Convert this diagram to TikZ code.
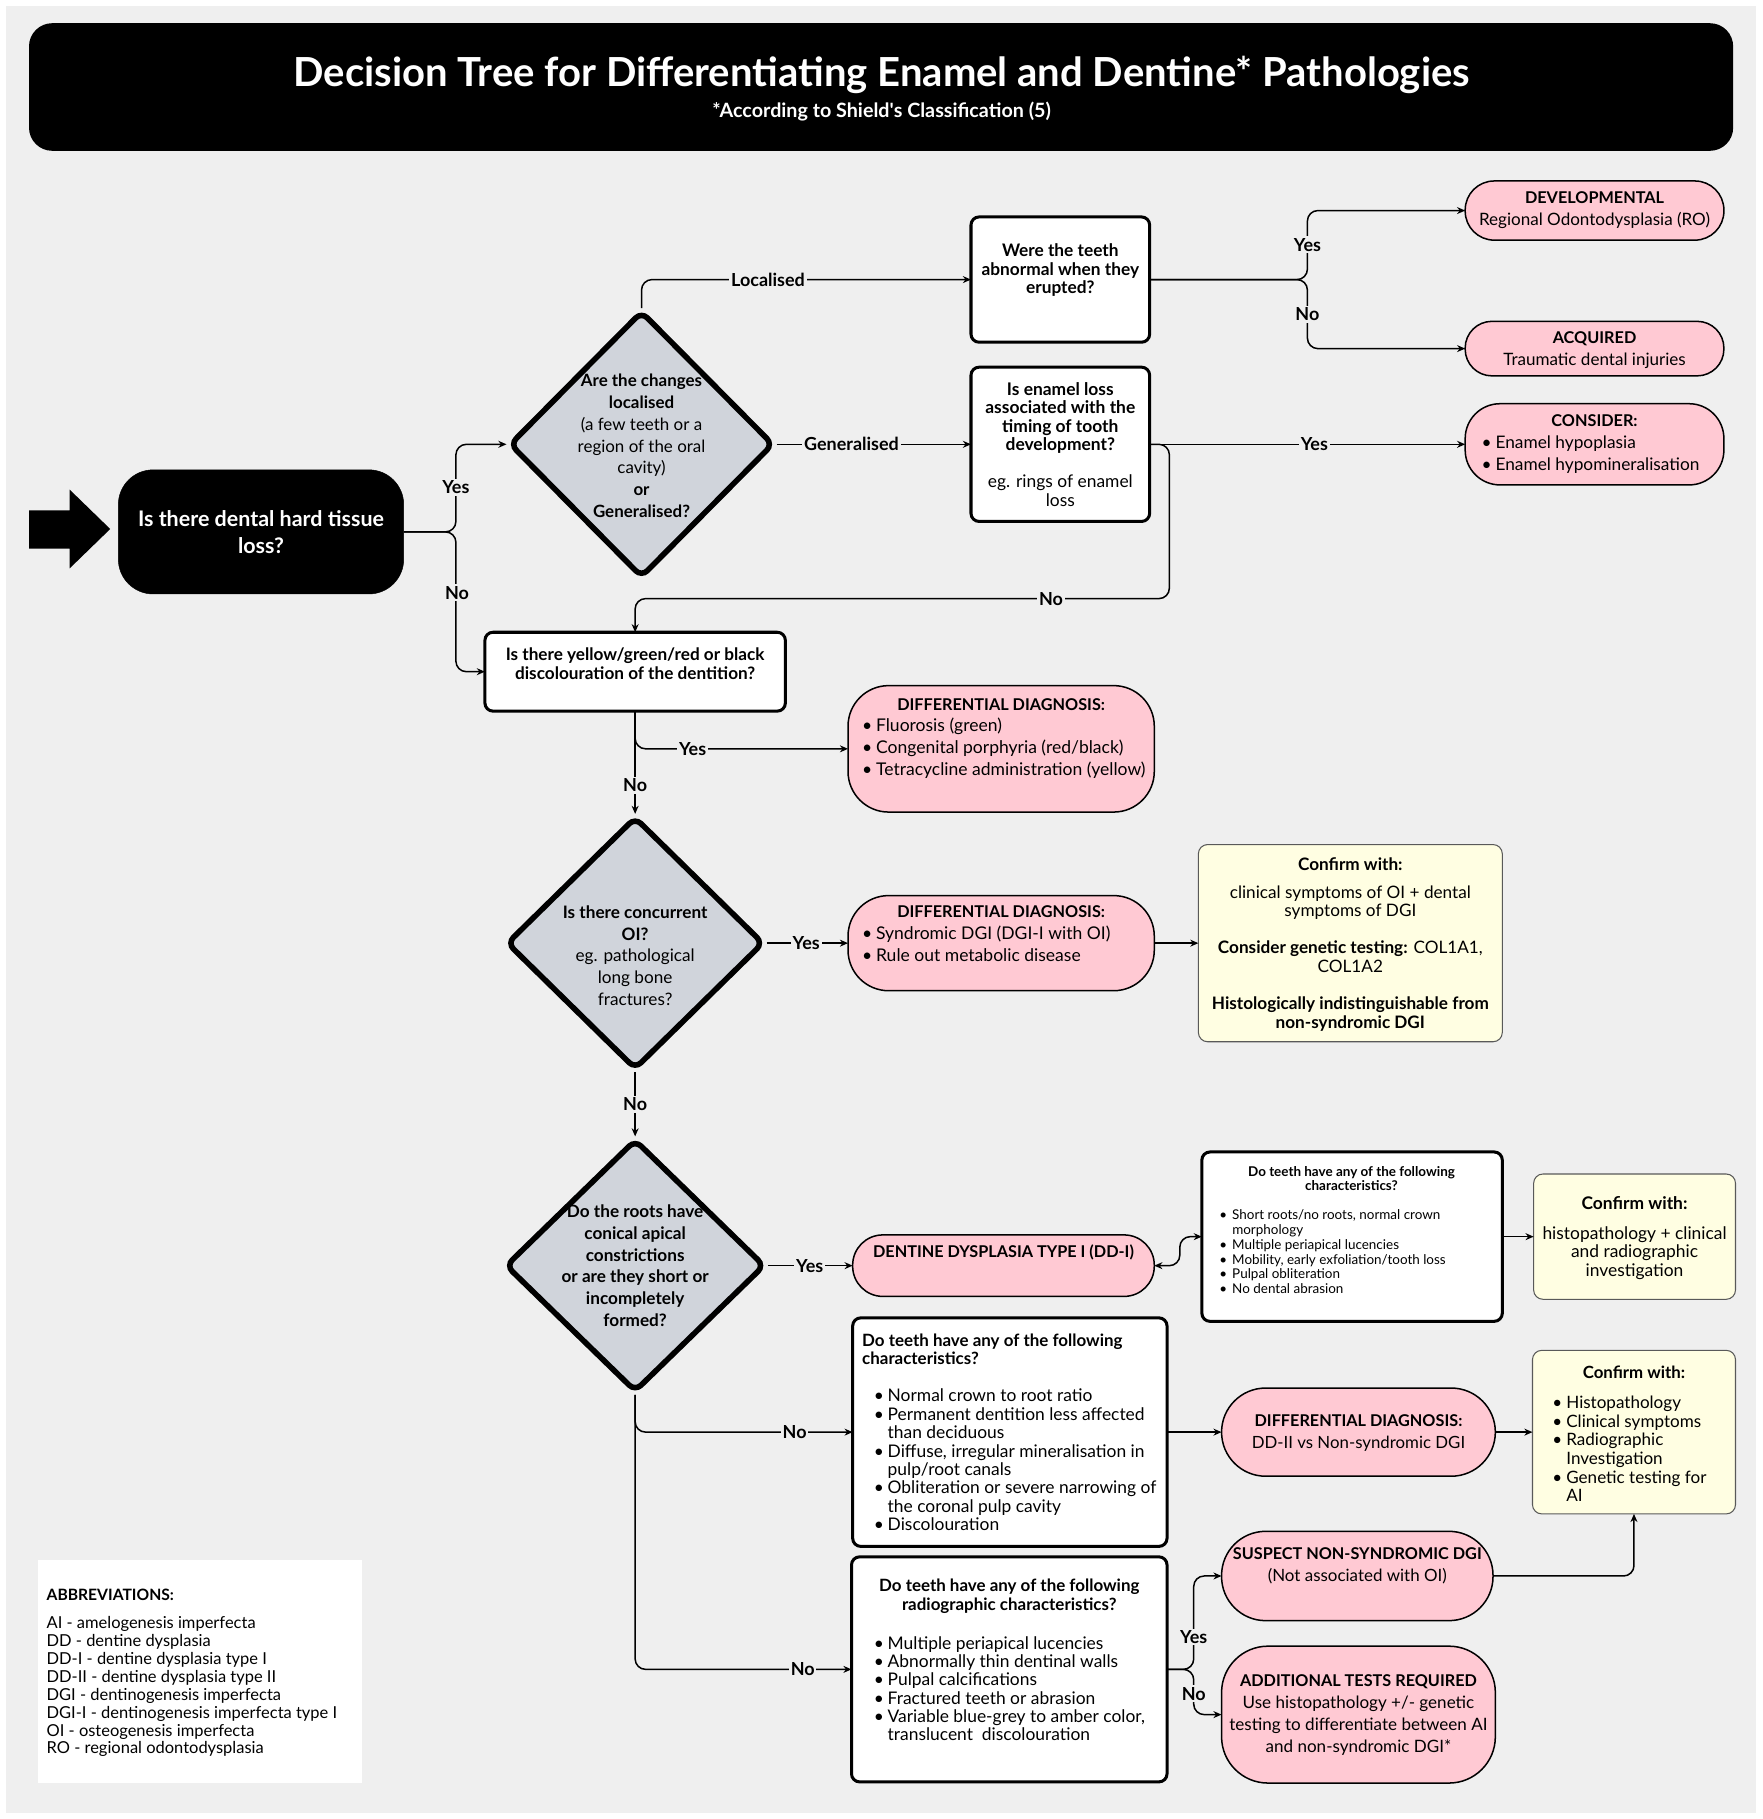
\documentclass[tikz,border=0pt]{standalone}
\usepackage{fontspec}
\setmainfont{Lato}
\usetikzlibrary{shapes.geometric,arrows.meta}
\definecolor{bg}{HTML}{EFEFEF}
\definecolor{pnk}{HTML}{FFC9D3}
\definecolor{dgr}{HTML}{D0D4DB}
\definecolor{crm}{HTML}{FFFEE2}
\newcommand\fsz[2]{\fontsize{#1}{#2}\selectfont}
\newcommand\hd[1]{{\fontsize{14}{19}\selectfont\bfseries #1}}
\newcommand\bl{\makebox[12pt][l]{\textbullet}}
\newcommand\bi{\hspace*{12pt}}
\newcommand\bls{\makebox[11pt][l]{\textbullet}}
\newcommand\bis{\hspace*{11pt}}
\begin{document}
\begin{tikzpicture}[x=1pt,y=-1pt,
  con/.style={line width=1.3pt, -{Stealth[length=7pt,width=6pt]}, rounded corners=9pt},
  lbl/.style={fill=bg, inner sep=1.5pt, font=\bfseries\fsz{15.5}{17}},
  wbox/.style={draw, line width=2.6pt, fill=white, rounded corners=7pt, inner sep=0pt, outer sep=0pt},
  pbox/.style={draw, line width=1.3pt, fill=pnk, inner sep=0pt, outer sep=0pt},
  cbox/.style={draw=black!65, line width=0.9pt, fill=crm, rounded corners=8pt, inner sep=0pt, outer sep=0pt},
  dia/.style={diamond, draw, line width=4.8pt, fill=dgr, rounded corners=7pt, inner sep=0pt, shape aspect=1},
  txt/.style={inner sep=0pt, align=center},
  txtl/.style={inner sep=0pt, align=left, anchor=west},
]
\useasboundingbox (0,0) rectangle (1519,1568);
\fill[white] (0,0) rectangle (1519,1568);
\fill[bg] (5,5) rectangle (1514,1563);

% banner
\node[fill=black, rounded corners=20pt, minimum width=1469pt, minimum height=110pt, inner sep=0pt] (banner) at (759.5,75) {};
\node[txt, text=white, font=\bfseries\fsz{34.5}{40}] (title) at (760,64.5) {Decision Tree for Differentiating Enamel and Dentine* Pathologies};
\node[txt, text=white, font=\bfseries\fsz{17}{19}] (sub) at (760,96.5) {*According to Shield\textquotesingle s Classification (5)};

% entry arrow
\fill[black] (25,440) -- (60,440) -- (60,422) -- (95,456) -- (60,490) -- (60,473) -- (25,473) -- cycle;

% nodes
\node[fill=black, draw=black, rounded corners=30pt, minimum width=246pt, minimum height=107pt, inner sep=0pt] (start) at (225,458.5) {};
\node[dia, minimum width=228pt, minimum height=230pt] (d1) at (553,383) {};
\node[wbox, minimum width=154pt, minimum height=108pt] (boxA) at (914,241) {};
\node[wbox, minimum width=154pt, minimum height=133pt] (boxB) at (914,383) {};
\node[pbox, rounded corners=25pt, minimum width=223pt, minimum height=51pt] (dev) at (1374.5,181.5) {};
\node[pbox, rounded corners=23pt, minimum width=223pt, minimum height=47pt] (acq) at (1374.5,300.5) {};
\node[pbox, rounded corners=30pt, minimum width=223pt, minimum height=70pt] (cons) at (1374.5,383) {};
\node[wbox, minimum width=259pt, minimum height=68pt] (boxC) at (547.5,579) {};
\node[pbox, rounded corners=35pt, minimum width=264pt, minimum height=109pt] (diff1) at (863,645.5) {};
\node[dia, minimum width=222pt, minimum height=218pt] (d2) at (547.5,813) {};
\node[pbox, rounded corners=35pt, minimum width=264pt, minimum height=82pt] (diff2) at (863,813) {};
\node[cbox, minimum width=262pt, minimum height=170pt] (conf1) at (1164,813) {};
\node[dia, minimum width=224pt, minimum height=218pt] (d3) at (547.5,1091) {};
\node[pbox, rounded corners=26pt, minimum width=260pt, minimum height=53pt] (ddi) at (865,1091) {};
\node[wbox, minimum width=259pt, minimum height=146pt] (boxD) at (1165.5,1066) {};
\node[cbox, minimum width=174pt, minimum height=108pt] (conf2) at (1409,1066) {};
\node[wbox, minimum width=271pt, minimum height=197pt] (boxE) at (870.5,1234.5) {};
\node[pbox, rounded corners=38pt, minimum width=236pt, minimum height=76pt] (diff3) at (1171,1234.5) {};
\node[cbox, minimum width=175pt, minimum height=141pt] (conf3) at (1408.5,1234.5) {};
\node[wbox, minimum width=272pt, minimum height=194pt] (boxF) at (870,1439) {};
\node[pbox, rounded corners=38pt, minimum width=234pt, minimum height=77pt] (susp) at (1170,1358.5) {};
\node[pbox, rounded corners=40pt, minimum width=236pt, minimum height=118pt] (add) at (1171,1478) {};
\node[fill=white, minimum width=279pt, minimum height=192pt, inner sep=0pt] (abbr) at (172.5,1441) {};

% connectors
\draw[con] (start.east) -- (393,458.5) |- (d1.west);
\draw[con] (start.east) -- (393,458.5) |- (boxC.west);
\draw[con] (d1.north) |- (boxA.west);
\draw[con] (d1.east) -- (boxB.west);
\draw[con] (boxA.east) -- (1127,241) |- (dev.west);
\draw[con] (boxA.east) -- (1127,241) |- (acq.west);
\draw[con] (boxB.east) -- (cons.west);
\draw[con] (boxB.east) -- (1008,383) -- (1008,516) -| (boxC.north);
\draw[con] (boxC.south) -- (d2.north);
\draw[con] (boxC.south) |- (diff1.west);
\draw[con] (d2.east) -- (diff2.west);
\draw[con] (diff2.east) -- (conf1.west);
\draw[con] (d2.south) -- (d3.north);
\draw[con] (d3.east) -- (ddi.west);
\draw[con, {Stealth[length=7pt,width=6pt]}-{Stealth[length=7pt,width=6pt]}] (ddi.east) -- (1017,1091) -- (1017,1066) -- (boxD.west);
\draw[con] (boxD.east) -- (conf2.west);
\draw[con] (d3.south) |- (boxE.west);
\draw[con] (d3.south) |- (boxF.west);
\draw[con] (boxE.east) -- (diff3.west);
\draw[con] (diff3.east) -- (conf3.west);
\draw[con] (boxF.east) -- (1029,1439) |- (susp.west);
\draw[con] (boxF.east) -- (1029,1439) |- (add.west);
\draw[con] (susp.east) -| (conf3.south);

% labels
\node[lbl] (l1) at (393,420) {Yes};
\node[lbl] (l2) at (394,511) {No};
\node[lbl] (l3) at (662,241) {Localised};
\node[lbl] (l4) at (734,383) {Generalised};
\node[lbl] (l5) at (1127,211) {Yes};
\node[lbl] (l6) at (1127,271) {No};
\node[lbl] (l7) at (1133,383) {Yes};
\node[lbl] (l8) at (906,516) {No};
\node[lbl] (l9) at (597,646) {Yes};
\node[lbl] (l10) at (547.5,677) {No};
\node[lbl] (l11) at (695,813) {Yes};
\node[lbl] (l12) at (547.5,952) {No};
\node[lbl] (l13) at (698,1091) {Yes};
\node[lbl] (l14) at (685,1234.5) {No};
\node[lbl] (l15) at (692,1439) {No};
\node[lbl] (l16) at (1029,1411) {Yes};
\node[lbl] (l17) at (1029,1460) {No};

% texts
\node[txt, text=white, font=\bfseries\fsz{18.5}{23}] (tstart) at (225,458.5) {Is there dental hard tissue\\loss?};
\node[txt, font=\fsz{14.6}{18.8}] (td1) at (553,384.4) {\textbf{Are the changes}\\\textbf{localised}\\(a few teeth or a\\region of the oral\\cavity)\\\textbf{or}\\\textbf{Generalised?}};
\node[txt, font=\bfseries\fsz{14.9}{16}] (tA) at (914,233) {Were the teeth\\abnormal when they\\erupted?};
\node[txt, font=\fsz{15}{16}] (tB) at (914,383) {\textbf{Is enamel loss}\\\textbf{associated with the}\\\textbf{timing of tooth}\\\textbf{development?}\\[16pt]eg. rings of enamel\\loss};
\node[txt, font=\fsz{14.7}{19}] (tdev) at (1374.5,181.5) {\hd{DEVELOPMENTAL}\\Regional Odontodysplasia (RO)};
\node[txt, font=\fsz{14.7}{19}] (tacq) at (1374.5,301.5) {\hd{ACQUIRED}\\Traumatic dental injuries};
\node[txt, font=\bfseries\fsz{14}{19}] (tcons) at (1374.5,363) {CONSIDER:};
\node[txtl, font=\fsz{14.9}{19}] (tconsb) at (1277,391.5) {\bl Enamel hypoplasia\\\bl Enamel hypomineralisation};
\node[txt, font=\bfseries\fsz{14.8}{16}] (tC) at (547.5,572) {Is there yellow/green/red or black\\discolouration of the dentition?};
\node[txt, font=\bfseries\fsz{14}{19}] (tdiff1) at (863,607) {DIFFERENTIAL DIAGNOSIS:};
\node[txtl, font=\fsz{15.1}{19}] (tdiff1b) at (743,645) {\bl Fluorosis (green)\\\bl Congenital porphyria (red/black)\\\bl Tetracycline administration (yellow)};
\node[txt, font=\fsz{14.8}{18.7}] (td2) at (547.5,823.6) {\textbf{Is there concurrent}\\\textbf{OI?}\\eg. pathological\\long bone\\fractures?};
\node[txt, font=\bfseries\fsz{14}{19}] (tdiff2) at (863,786) {DIFFERENTIAL DIAGNOSIS:};
\node[txtl, font=\fsz{15.1}{19}] (tdiff2b) at (743,813.5) {\bl Syndromic DGI (DGI-I with OI)\\\bl Rule out metabolic disease};
\node[txt, font=\fsz{14.8}{16}] (tconf1) at (1164,814) {\textbf{Confirm with:}\\[8pt]clinical symptoms of OI + dental\\symptoms of DGI\\[16pt]\textbf{Consider genetic testing:} COL1A1,\\COL1A2\\[16pt]\textbf{Histologically indistinguishable from}\\\textbf{non-syndromic DGI}};
\node[txt, font=\bfseries\fsz{14.8}{18.8}] (td3) at (547.5,1091) {Do the roots have\\conical apical\\constrictions\\or are they short or\\incompletely\\formed?};
\node[txt, font=\bfseries\fsz{14}{16}] (tddi) at (865,1080) {DENTINE DYSPLASIA TYPE I (DD-I)};
\node[txt, font=\bfseries\fsz{11.6}{12}] (tD) at (1165,1016) {Do teeth have any of the following\\characteristics?};
\node[txtl, font=\fsz{11.6}{12.8}] (tDb) at (1051,1079) {\bls Short roots/no roots, normal crown\\\bis morphology\\\bls Multiple periapical lucencies\\\bls Mobility, early exfoliation/tooth loss\\\bls Pulpal obliteration\\\bls No dental abrasion};
\node[txt, font=\fsz{15}{16}] (tconf2) at (1409,1067) {\textbf{Confirm with:}\\[10pt]histopathology + clinical\\and radiographic\\investigation};
\node[txtl, font=\bfseries\fsz{14.6}{16}] (tE) at (743,1163) {Do teeth have any of the following\\characteristics?};
\node[txtl, font=\fsz{15}{15.9}] (tEb) at (753,1258.5) {\bl Normal crown to root ratio\\\bl Permanent dentition less affected\\\bi than deciduous\\\bl Diffuse, irregular mineralisation in\\\bi pulp/root canals\\\bl Obliteration or severe narrowing of\\\bi the coronal pulp cavity\\\bl Discolouration};
\node[txt, font=\fsz{14.5}{19}] (tdiff3) at (1171,1235.5) {\hd{DIFFERENTIAL DIAGNOSIS:}\\DD-II vs Non-syndromic DGI};
\node[txt, font=\bfseries\fsz{14.5}{16}] (tconf3) at (1408.5,1183) {Confirm with:};
\node[txtl, font=\fsz{14.7}{16}] (tconf3b) at (1338,1249) {\bl Histopathology\\\bl Clinical symptoms\\\bl Radiographic\\\bi Investigation\\\bl Genetic testing for\\\bi AI};
\node[txt, font=\bfseries\fsz{14.6}{16}] (tF) at (870,1376) {Do teeth have any of the following\\radiographic characteristics?};
\node[txtl, font=\fsz{15}{15.8}] (tFb) at (753,1455.5) {\bl Multiple periapical lucencies\\\bl Abnormally thin dentinal walls\\\bl Pulpal calcifications\\\bl Fractured teeth or abrasion\\\bl Variable blue-grey to amber color,\\\bi translucent\ \ discolouration};
\node[txt, font=\fsz{14.6}{19}] (tsusp) at (1170,1349.5) {\hd{SUSPECT NON-SYNDROMIC DGI}\\(Not associated with OI)};
\node[txt, font=\fsz{14.7}{19}] (tadd) at (1171,1478.5) {\hd{ADDITIONAL TESTS REQUIRED}\\Use histopathology +/- genetic\\testing to differentiate between AI\\and non-syndromic DGI*};
\node[txtl, font=\bfseries\fsz{13.5}{15}] (tabbr) at (40,1375) {ABBREVIATIONS:};
\node[txtl, font=\fsz{14.2}{15.4}] (tabbrb) at (40,1454) {AI - amelogenesis imperfecta\\DD - dentine dysplasia\\DD-I - dentine dysplasia type I\\DD-II - dentine dysplasia type II\\DGI - dentinogenesis imperfecta\\DGI-I - dentinogenesis imperfecta type I\\OI - osteogenesis imperfecta\\RO - regional odontodysplasia};
\end{tikzpicture}
\end{document}
